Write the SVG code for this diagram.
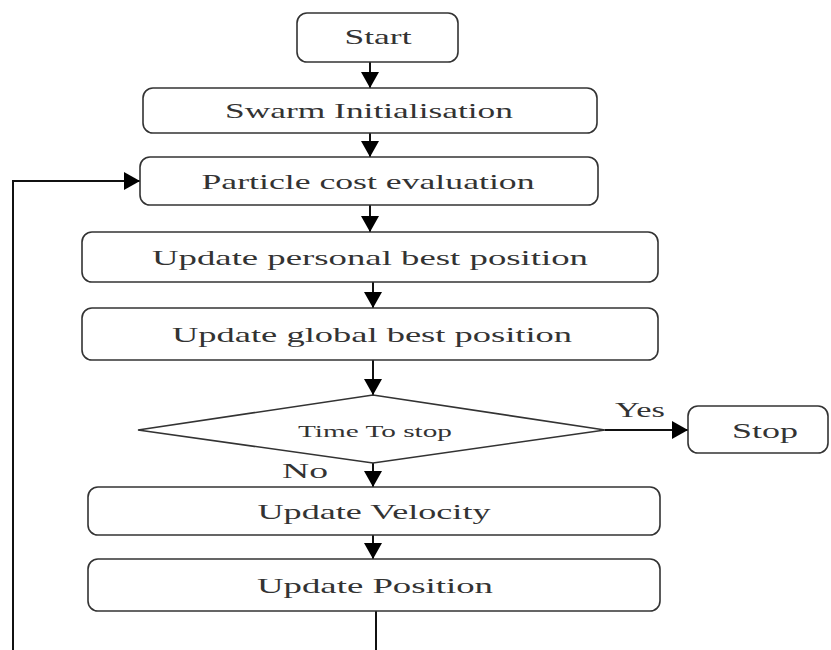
<svg xmlns="http://www.w3.org/2000/svg" width="831" height="650" viewBox="0 0 831 650">
<style>
.box{fill:#fff;stroke:#333;stroke-width:1.6}
.t{font-family:"Liberation Serif","Times New Roman",serif;font-size:22px;fill:#333;text-anchor:middle}
.s{font-size:16px}
.ln{stroke:#111;stroke-width:2;fill:none}
</style>
<defs>
<marker id="ah" markerUnits="userSpaceOnUse" markerWidth="18" markerHeight="18" refX="16" refY="9" orient="auto">
<path d="M0,0 L16,9 L0,18 Z" fill="#000"/>
</marker>
</defs>
<rect width="831" height="650" fill="#fff"/>
<g id="connectors">
<line class="ln" x1="370" y1="62" x2="370" y2="88" marker-end="url(#ah)"/>
<line class="ln" x1="370" y1="133" x2="370" y2="157" marker-end="url(#ah)"/>
<line class="ln" x1="370" y1="205" x2="370" y2="232" marker-end="url(#ah)"/>
<line class="ln" x1="373" y1="282" x2="373" y2="308" marker-end="url(#ah)"/>
<line class="ln" x1="373" y1="360" x2="373" y2="395" marker-end="url(#ah)"/>
<line class="ln" x1="605" y1="430" x2="688" y2="430" marker-end="url(#ah)"/>
<line class="ln" x1="373" y1="463" x2="373" y2="487" marker-end="url(#ah)"/>
<line class="ln" x1="373" y1="535" x2="373" y2="559" marker-end="url(#ah)"/>
<line class="ln" x1="376" y1="611" x2="376" y2="650"/>
<polyline class="ln" points="13,650 13,181 140,181" marker-end="url(#ah)"/>
<text class="t" x="640" y="417" textLength="50" lengthAdjust="spacingAndGlyphs">Yes</text>
<text class="t" x="305" y="478" textLength="46" lengthAdjust="spacingAndGlyphs">No</text>
</g>
<g id="start">
<rect class="box" x="297" y="13" width="161" height="49" rx="10"/>
<text class="t" x="378" y="44" textLength="67" lengthAdjust="spacingAndGlyphs">Start</text>
</g>
<g id="swarm-init">
<rect class="box" x="143" y="88" width="454" height="45" rx="10"/>
<text class="t" x="369" y="118" textLength="288" lengthAdjust="spacingAndGlyphs">Swarm Initialisation</text>
</g>
<g id="particle-cost">
<rect class="box" x="140" y="157" width="458" height="48" rx="10"/>
<text class="t" x="368" y="189" textLength="333" lengthAdjust="spacingAndGlyphs">Particle cost evaluation</text>
</g>
<g id="personal-best">
<rect class="box" x="82" y="232" width="576" height="50" rx="10"/>
<text class="t" x="370" y="265" textLength="436" lengthAdjust="spacingAndGlyphs">Update personal best position</text>
</g>
<g id="global-best">
<rect class="box" x="82" y="308" width="576" height="52" rx="10"/>
<text class="t" x="372" y="342" textLength="400" lengthAdjust="spacingAndGlyphs">Update global best position</text>
</g>
<g id="time-to-stop">
<polygon class="box" points="138,430 373,395 605,430 373,463"/>
<text class="t s" x="375" y="437" textLength="154" lengthAdjust="spacingAndGlyphs">Time To stop</text>
</g>
<g id="stop">
<rect class="box" x="688" y="406" width="140" height="47" rx="10"/>
<text class="t" x="765" y="438" textLength="66" lengthAdjust="spacingAndGlyphs">Stop</text>
</g>
<g id="update-velocity">
<rect class="box" x="88" y="487" width="572" height="48" rx="10"/>
<text class="t" x="374" y="519" textLength="233" lengthAdjust="spacingAndGlyphs">Update Velocity</text>
</g>
<g id="update-position">
<rect class="box" x="88" y="559" width="572" height="52" rx="10"/>
<text class="t" x="375" y="593" textLength="236" lengthAdjust="spacingAndGlyphs">Update Position</text>
</g>
</svg>
